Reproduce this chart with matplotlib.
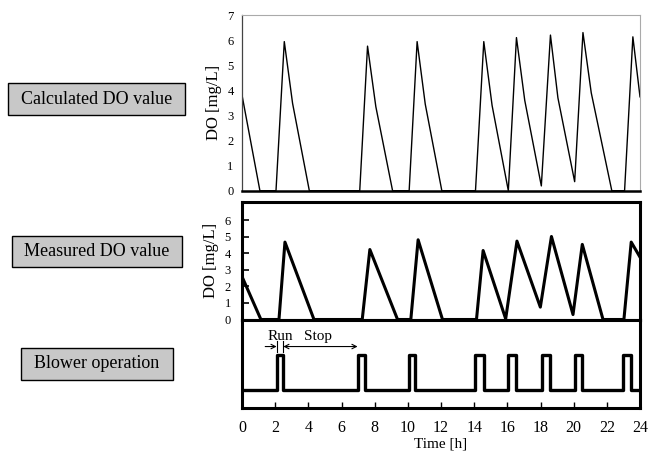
import numpy as np
import matplotlib
matplotlib.use("Agg")
import matplotlib.pyplot as plt
from matplotlib.patches import FancyArrowPatch

plt.rcParams['font.family'] = ['Liberation Serif', 'DejaVu Serif']

# calculated DO (top panel)
calc_t = [0, 1.08, 2.05, 2.55, 3.05, 4.06, 7.1, 7.57, 8.07, 9.08, 10.08, 10.56, 11.05, 12.05,
          14.08, 14.58, 15.08, 16.06, 16.55, 17.05, 18.05, 18.6, 19.05, 20.06, 20.56, 21.06,
          22.3, 23.07, 23.57, 24]
calc_do = [3.81, 0, 0, 5.94, 3.48, 0, 0, 5.76, 3.35, 0, 0, 5.94, 3.45, 0,
           0, 5.94, 3.4, 0, 6.1, 3.6, 0.19, 6.2, 3.7, 0.36, 6.3, 3.9,
           0, 0, 6.13, 3.74]

# measured DO (middle panel)
meas_t = [0, 1.14, 2.23, 2.59, 4.34, 7.25, 7.71, 9.38, 10.18, 10.62, 12.09, 14.14, 14.54,
          15.9, 16.58, 17.99, 18.66, 19.96, 20.52, 21.77, 23.03, 23.47, 24]
meas_do = [2.6, 0, 0, 4.69, 0, 0, 4.24, 0, 0, 4.83, 0, 0, 4.18,
           0.04, 4.75, 0.75, 5.03, 0.3, 4.55, 0, 0, 4.69, 3.78]

# blower run periods (start, stop) in hours
run_start = [2.09, 6.97, 10.06, 14.08, 16.04, 18.09, 20.06, 22.97]
run_stop = [2.49, 7.41, 10.42, 14.58, 16.5, 18.55, 20.5, 23.47]

xticks = list(range(0, 25, 2))
panel_labels = ["Calculated DO value", "Measured DO value", "Blower operation"]

fig = plt.figure(figsize=(6.48, 4.53), dpi=100)
W, H = 648, 453

def ax_at(x0, y0, x1, y1):
    return fig.add_axes([x0 / W, 1 - y1 / H, (x1 - x0) / W, (y1 - y0) / H])

# top panel
ax1 = ax_at(242, 15, 640, 190.7)
ax1.plot(calc_t, calc_do, color='black', lw=1.0)
ax1.set_xlim(0, 24)
ax1.set_ylim(0, 7)
ax1.set_yticks(range(0, 8))
ax1.tick_params(axis='y', length=0, labelsize=9, pad=6)
ax1.set_xticks([])
for s in ['top', 'right']:
    ax1.spines[s].set_color('#aaaaaa')
    ax1.spines[s].set_linewidth(0.8)
ax1.spines['left'].set_color('#444444')
ax1.spines['left'].set_linewidth(0.9)
ax1.spines['bottom'].set_linewidth(1.8)
ax1.set_ylabel("DO [mg/L]", fontsize=12, labelpad=4)

# middle panel
ax2 = ax_at(242, 202, 640, 319.5)
ax2.plot(meas_t, meas_do, color='black', lw=2.2)
ax2.set_xlim(0, 24)
ax2.set_ylim(0, 7.12)
ax2.set_yticks(range(0, 7))
ax2.tick_params(axis='y', direction='in', length=5, width=1.2, labelsize=9, pad=8)
ax2.set_xticks([])
for s in ax2.spines.values():
    s.set_linewidth(2.2)
ax2.set_ylabel("DO [mg/L]", fontsize=12, labelpad=4)

# bottom panel
ax3 = ax_at(242, 319.5, 640, 408)
bt = [0]
bv = [0]
for a, b in zip(run_start, run_stop):
    bt += [a, a, b, b]
    bv += [0, 1, 1, 0]
bt.append(24)
bv.append(0)
ax3.plot(bt, bv, color='black', lw=2.4)
ax3.set_xlim(0, 24)
ax3.set_ylim(-0.5, 2.02)
ax3.set_yticks([])
ax3.set_xticks(xticks)
ax3.tick_params(axis='x', direction='in', length=4, width=1, labelsize=11.5, pad=9)
for s in ax3.spines.values():
    s.set_linewidth(2.2)
ax3.set_xlabel("Time [h]", fontsize=11, labelpad=1)

# Run / Stop annotation
ya = 1.25
ax3.add_patch(FancyArrowPatch((1.4, ya), (run_start[0], ya), arrowstyle='->',
                              mutation_scale=8, lw=0.8, color='black', shrinkA=0, shrinkB=0))
ax3.add_patch(FancyArrowPatch((run_stop[0], ya), (run_start[1], ya), arrowstyle='<->',
                              mutation_scale=8, lw=0.8, color='black', shrinkA=0, shrinkB=0))
for xv in [run_start[0], run_stop[0]]:
    ax3.plot([xv, xv], [ya - 0.15, ya + 0.15], color='black', lw=0.8)
ax3.text(2.29, ya + 0.1, "Run", ha='center', va='bottom', fontsize=11)
ax3.text(4.6, ya + 0.1, "Stop", ha='center', va='bottom', fontsize=11)

# left label boxes
boxes = [(8, 83, 185, 115), (12, 236, 182, 267), (21, 348, 173, 380)]
for (x0, y0, x1, y1), lab in zip(boxes, panel_labels):
    fig.patches.append(plt.Rectangle((x0 / W, 1 - y1 / H), (x1 - x0) / W, (y1 - y0) / H,
                                     transform=fig.transFigure, facecolor='#c8c8c8',
                                     edgecolor='black', lw=1.0))
    fig.text((x0 + x1) / 2 / W, 1 - (y0 + y1) / 2 / H, lab, ha='center', va='center',
             fontsize=13)

fig.savefig("out.png", dpi=100)
